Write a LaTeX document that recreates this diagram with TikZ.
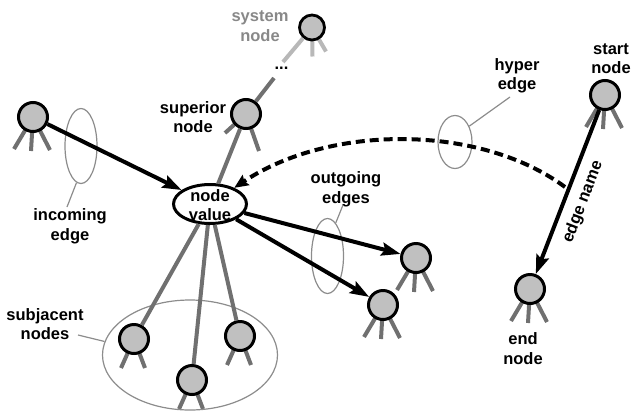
\documentclass[tikz,border=0pt]{standalone}
\usepackage{fontspec}
\setmainfont{Liberation Sans}
\usetikzlibrary{arrows.meta,shapes.geometric,backgrounds}
\definecolor{nfill}{RGB}{192,192,192}
\definecolor{leggray}{RGB}{112,112,112}
\definecolor{lightleg}{RGB}{184,184,184}
\definecolor{thingray}{RGB}{140,140,140}
\definecolor{labgray}{RGB}{136,136,136}
\begin{document}
\begin{tikzpicture}[x=1pt,y=-1pt,
  nd/.style={circle,draw=black,fill=nfill,line width=3pt,minimum size=29pt,inner sep=0pt},
  sysnd/.style={nd,minimum size=25pt,line width=2.8pt},
  leg/.style={draw=leggray,line width=4pt},
  sysleg/.style={draw=lightleg,line width=4pt},
  edgeline/.style={draw=black,line width=4pt,-{Stealth[length=19pt,width=13pt,inset=3pt]}},
  hyperline/.style={draw=black,line width=4pt,dash pattern=on 9pt off 5pt,-{Stealth[length=14pt,width=12pt,inset=2pt]}},
  ring/.style={ellipse,draw=thingray,line width=1.2pt,inner sep=0pt},
  pointer/.style={draw=thingray,line width=1.2pt},
  lbl/.style={font=\bfseries\fontsize{16.5}{19.5}\selectfont,align=center,inner sep=0pt},
  nvbox/.style={ellipse,draw=black,fill=white,line width=3pt,minimum width=73pt,minimum height=39pt,inner xsep=0pt,inner ysep=-4pt},
  legs/.pic={\draw[leg] (0,0) -- (-19,32) (0,0) -- (-2,34) (0,0) -- (17,33);},
  twolegs/.pic={\draw[leg] (0,0) -- (-13,29) (0,0) -- (11,29);}
]
\useasboundingbox (0,0) rectangle (631,413);

% rings (thin gray ellipses)
\node[ring,minimum width=32pt,minimum height=75pt] (inring) at (81,146) {};
\node[ring,minimum width=34pt,minimum height=53pt] (hyring) at (455,142) {};
\node[ring,minimum width=32pt,minimum height=75pt] (outring) at (327.5,256) {};
\node[ring,minimum width=175pt,minimum height=110pt] (subring) at (190,355) {};

% nodes
\node[nvbox] (nv) at (210,204) {};
\node[lbl] (nvtext) at (210,205) {node\\value};
\node[sysnd] (sys) at (312,27.5) {};
\node[nd] (sup) at (246,114) {};
\node[nd] (inn) at (33,117) {};
\node[nd] (o1) at (416,258) {};
\node[nd] (o2) at (383,305) {};
\node[nd] (s1) at (134,339) {};
\node[nd] (s2) at (192,380) {};
\node[nd] (s3) at (240,336) {};
\node[nd] (start) at (605,95) {};
\node[nd] (end) at (530,289) {};

% labels
\node[lbl,text=labgray] (syslbl) at (260,26) {system\\node};
\node[lbl] (suplbl) at (193,117) {superior\\node};
\node[lbl] (hylbl) at (517,76) {hyper\\edge};
\node[lbl] (startlbl) at (611,58.5) {start\\node};
\node[lbl] (outlbl) at (346,189.5) {outgoing\\edges};
\node[lbl] (inlbl) at (70,226.5) {incoming\\edge};
\node[lbl] (sublbl) at (45,324) {subjacent\\nodes};
\node[lbl] (endlbl) at (523,348.5) {end\\node};
\node[lbl,anchor=base] (dots) at (281.5,69) {...};

% coordinates
\coordinate (dA) at (274,78);
\coordinate (dB) at (283,62);
\coordinate (he) at (565,187);
\coordinate (inptr) at (67,207);
\coordinate (hyptr) at (510,97);
\coordinate (outptr) at (343,205);
\coordinate (subptr) at (78,335);

\begin{pgfonlayer}{background}
  \pic at (inn) {legs};
  \pic at (o1) {legs};
  \pic at (o2) {legs};
  \pic at (start) {legs};
  \pic at (end) {legs};
  \pic at (s1) {twolegs};
  \pic at (s2) {twolegs};
  \pic at (s3) {twolegs};
  \draw[leg] (sup.center) -- ++(-21,19) (sup.center) -- ++(13,37);
  \draw[sysleg] (sys.center) -- ++(0.5,29) (sys.center) -- ++(14,24);
\end{pgfonlayer}

% gray structure lines
\draw[leg] (sup) -- (dA);
\draw[sysleg] (dB) -- (sys);
\draw[leg] (sup) -- (nv);
\draw[leg] (nv) -- (s1);
\draw[leg] (nv) -- (s2);
\draw[leg] (nv) -- (s3);

% edges
\draw[edgeline] (inn) -- (nv);
\draw[edgeline] (nv) -- (o1);
\draw[edgeline] (nv) -- (o2);
\draw[edgeline] (start) -- (end);
\draw[hyperline] (he) .. controls (480,124) and (330,124) .. (nv);
\node[lbl,rotate=69] (ename) at (583,202) {edge name};

% pointers
\draw[pointer] (inring.-97) -- (inptr);
\draw[pointer] (hyring.48) -- (hyptr);
\draw[pointer] (outring.76) -- (outptr);
\draw[pointer] (subring.171) -- (subptr);
\end{tikzpicture}
\end{document}
